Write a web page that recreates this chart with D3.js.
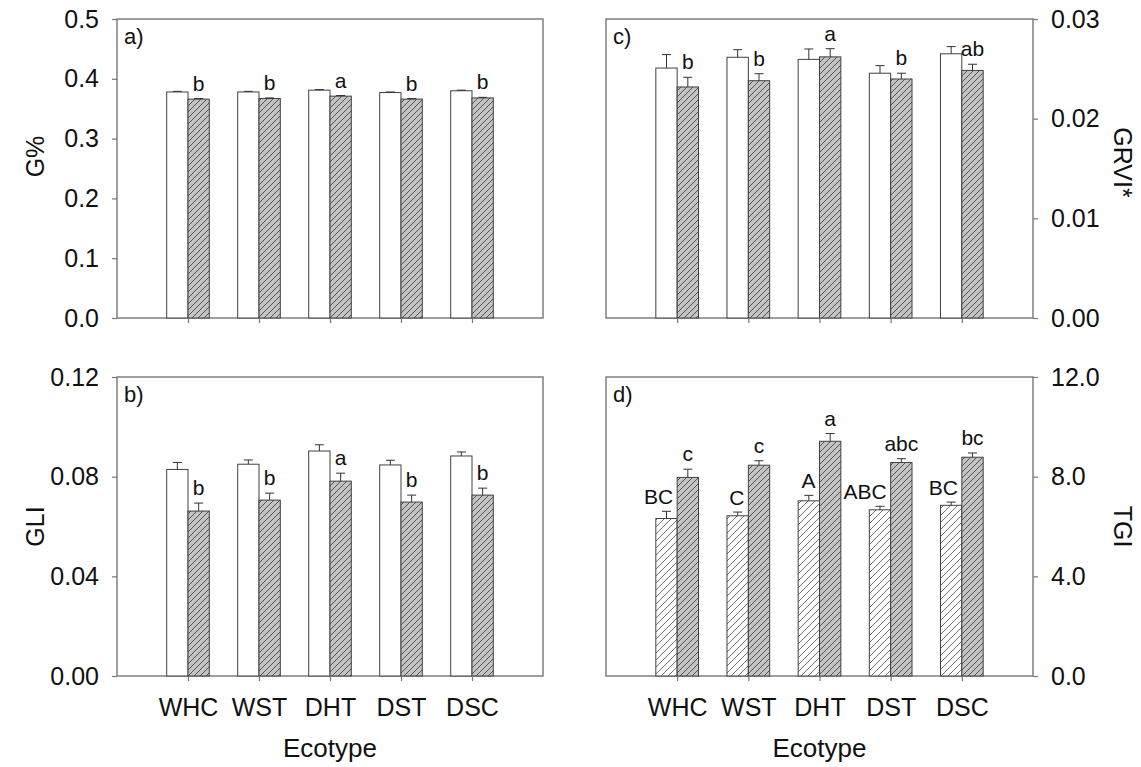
<!DOCTYPE html>
<html>
<head>
<meta charset="utf-8">
<script src="https://cdn.jsdelivr.net/npm/d3@7"></script>
<style>
  html, body { margin: 0; padding: 0; background: #fff; }
  svg { display: block; font-family: "Liberation Sans", Arial, sans-serif; }
</style>
</head>
<body>
<svg id="chart" width="1141" height="767"></svg>
<script>
// Ecotypes on the x axis
const categories = ["WHC", "WST", "DHT", "DST", "DSC"];

// a) G%
const gPctOpen = [0.378, 0.378, 0.381, 0.377, 0.380];
const gPctOpenErr = [0.001, 0.001, 0.001, 0.001, 0.001];
const gPctHatched = [0.366, 0.367, 0.371, 0.366, 0.368];
const gPctHatchedErr = [0.001, 0.001, 0.001, 0.001, 0.001];
const gPctLetters = ["b", "b", "a", "b", "b"];
const gPctTicks = [0, 0.1, 0.2, 0.3, 0.4, 0.5];

// b) GLI
const gliOpen = [0.0829, 0.0850, 0.0903, 0.0847, 0.0883];
const gliOpenErr = [0.0028, 0.0017, 0.0025, 0.0019, 0.0016];
const gliHatched = [0.0662, 0.0706, 0.0782, 0.0698, 0.0726];
const gliHatchedErr = [0.0032, 0.0028, 0.0032, 0.0028, 0.0028];
const gliLetters = ["b", "b", "a", "b", "b"];
const gliTicks = [0, 0.04, 0.08, 0.12];

// c) GRVI*
const grviOpen = [0.02508, 0.02616, 0.02595, 0.02456, 0.02651];
const grviOpenErr = [0.00135, 0.00076, 0.00104, 0.00076, 0.00072];
const grviHatched = [0.02318, 0.02381, 0.02620, 0.02398, 0.02484];
const grviHatchedErr = [0.00097, 0.00070, 0.00082, 0.00058, 0.00062];
const grviLetters = ["b", "b", "a", "b", "ab"];
const grviTicks = [0, 0.01, 0.02, 0.03];

// d) TGI
const tgiOpen = [6.32, 6.43, 7.03, 6.67, 6.85];
const tgiOpenErr = [0.29, 0.15, 0.22, 0.14, 0.13];
const tgiHatched = [7.97, 8.46, 9.42, 8.57, 8.78];
const tgiHatchedErr = [0.33, 0.18, 0.31, 0.15, 0.17];
const tgiOpenLetters = ["BC", "C", "A", "ABC", "BC"];
const tgiHatchedLetters = ["c", "c", "a", "abc", "bc"];
const tgiTicks = [0, 4, 8, 12];

const svg = d3.select("#chart");
const frameColor = "#777777";
const barStroke = "#404040";

// Hatch patterns: grey with dark diagonals, and white with diagonals
const defs = svg.append("defs");
function hatch(id, bg, line, size, width) {
  const p = defs.append("pattern")
    .attr("id", id).attr("patternUnits", "userSpaceOnUse")
    .attr("width", size).attr("height", size);
  p.append("rect").attr("width", size).attr("height", size).attr("fill", bg);
  p.append("path")
    .attr("d", `M0,${size} L${size},0 M${-size / 2},${size / 2} L${size / 2},${-size / 2} M${size / 2},${size * 1.5} L${size * 1.5},${size / 2}`)
    .attr("stroke", line).attr("stroke-width", width).attr("fill", "none");
}
hatch("hatchGrey", "#c3c3c3", "#363636", 6, 0.8);
hatch("hatchWhite", "#ffffff", "#505050", 7, 0.8);

const panels = [
  { tag: "a)", x0: 117, x1: 543, y0: 19, y1: 318, side: "left", title: "G%", titleShift: -12,
    open: gPctOpen, openErr: gPctOpenErr, hatched: gPctHatched, hatchedErr: gPctHatchedErr,
    letters: gPctLetters, openLetters: null, ticks: gPctTicks, fmt: ".1f", xLabels: false, openFill: "#fff" },
  { tag: "b)", x0: 117, x1: 543, y0: 377, y1: 676, side: "left", title: "GLI", titleShift: 0,
    open: gliOpen, openErr: gliOpenErr, hatched: gliHatched, hatchedErr: gliHatchedErr,
    letters: gliLetters, openLetters: null, ticks: gliTicks, fmt: ".2f", xLabels: true, openFill: "#fff" },
  { tag: "c)", x0: 606, x1: 1033, y0: 19, y1: 318, side: "right", title: "GRVI*", titleShift: -6,
    open: grviOpen, openErr: grviOpenErr, hatched: grviHatched, hatchedErr: grviHatchedErr,
    letters: grviLetters, openLetters: null, ticks: grviTicks, fmt: ".2f", xLabels: false, openFill: "#fff" },
  { tag: "d)", x0: 606, x1: 1033, y0: 377, y1: 676, side: "right", title: "TGI", titleShift: 0,
    open: tgiOpen, openErr: tgiOpenErr, hatched: tgiHatched, hatchedErr: tgiHatchedErr,
    letters: tgiHatchedLetters, openLetters: tgiOpenLetters, ticks: tgiTicks, fmt: ".1f", xLabels: true, openFill: "url(#hatchWhite)" }
];

panels.forEach(p => {
  const x = d3.scalePoint().domain(categories).range([p.x0, p.x1]).padding(1);
  const y = d3.scaleLinear().domain([p.ticks[0], p.ticks[p.ticks.length - 1]]).range([p.y1, p.y0]);
  const bw = x.step() * 0.3;
  const g = svg.append("g");

  // plot frame
  g.append("rect")
    .attr("x", p.x0).attr("y", p.y0)
    .attr("width", p.x1 - p.x0).attr("height", p.y1 - p.y0)
    .attr("fill", "none").attr("stroke", frameColor).attr("stroke-width", 1.4);

  const rows = categories.map((c, i) => ({
    c, i,
    open: p.open[i], openErr: p.openErr[i],
    hatched: p.hatched[i], hatchedErr: p.hatchedErr[i]
  }));

  // open (left) bars
  g.selectAll(".open").data(rows).join("rect")
    .attr("x", d => x(d.c) - bw).attr("y", d => y(d.open))
    .attr("width", bw).attr("height", d => y(0) - y(d.open))
    .attr("fill", p.openFill).attr("stroke", barStroke).attr("stroke-width", 1);

  // hatched (right) bars
  g.selectAll(".hatched").data(rows).join("rect")
    .attr("x", d => x(d.c)).attr("y", d => y(d.hatched))
    .attr("width", bw).attr("height", d => y(0) - y(d.hatched))
    .attr("fill", "url(#hatchGrey)").attr("stroke", barStroke).attr("stroke-width", 1);

  // upward error bars with caps
  const errs = rows.flatMap(d => [
    { cx: x(d.c) - bw / 2, v: d.open, e: d.openErr },
    { cx: x(d.c) + bw / 2, v: d.hatched, e: d.hatchedErr }
  ]);
  g.selectAll(".err").data(errs).join("path")
    .attr("d", d => `M${d.cx},${y(d.v)} V${y(d.v + d.e)} M${d.cx - 4.5},${y(d.v + d.e)} H${d.cx + 4.5}`)
    .attr("stroke", "#333").attr("stroke-width", 1).attr("fill", "none");

  // significance letters
  g.selectAll(".lh").data(rows).join("text")
    .attr("x", d => x(d.c) + bw / 2)
    .attr("y", d => y(d.hatched + d.hatchedErr) - 8)
    .attr("text-anchor", "middle").attr("font-size", 21).attr("fill", "#111")
    .text(d => p.letters[d.i]);
  if (p.openLetters) {
    g.selectAll(".lo").data(rows).join("text")
      .attr("x", d => x(d.c) - 4)
      .attr("y", d => y(d.open + d.openErr) - 7)
      .attr("text-anchor", "end").attr("font-size", 21).attr("fill", "#111")
      .text(d => p.openLetters[d.i]);
  }

  // panel tag
  g.append("text").attr("x", p.x0 + 7).attr("y", p.y0 + 25)
    .attr("font-size", 22).attr("fill", "#111").text(p.tag);

  // y axis
  const yAxis = (p.side === "left" ? d3.axisLeft(y) : d3.axisRight(y))
    .tickValues(p.ticks).tickFormat(d3.format(p.fmt)).tickSize(5).tickPadding(13);
  const ya = g.append("g")
    .attr("transform", `translate(${p.side === "left" ? p.x0 : p.x1},0)`)
    .call(yAxis);
  ya.select(".domain").remove();
  ya.selectAll("line").attr("stroke", frameColor).attr("stroke-width", 1.2);
  ya.selectAll("text").attr("font-size", 25).attr("fill", "#111").attr("font-family", null);

  // x axis
  const xAxis = d3.axisBottom(x).tickSize(5).tickPadding(17)
    .tickFormat(d => p.xLabels ? d : "");
  const xa = g.append("g").attr("transform", `translate(0,${p.y1})`).call(xAxis);
  xa.select(".domain").remove();
  xa.selectAll("line").attr("stroke", frameColor).attr("stroke-width", 1.2);
  xa.selectAll("text").attr("font-size", 25).attr("fill", "#111").attr("font-family", null);

  if (p.xLabels) {
    g.append("text").attr("x", (p.x0 + p.x1) / 2).attr("y", 757)
      .attr("text-anchor", "middle").attr("font-size", 26).attr("fill", "#111")
      .text("Ecotype");
  }

  // y title
  const cy = (p.y0 + p.y1) / 2 + p.titleShift;
  if (p.side === "left") {
    g.append("text").attr("transform", `translate(44,${cy}) rotate(-90)`)
      .attr("text-anchor", "middle").attr("font-size", 25).attr("fill", "#111").text(p.title);
  } else {
    g.append("text").attr("transform", `translate(1114,${cy}) rotate(90)`)
      .attr("text-anchor", "middle").attr("font-size", 25).attr("fill", "#111").text(p.title);
  }
});
</script>
</body>
</html>
